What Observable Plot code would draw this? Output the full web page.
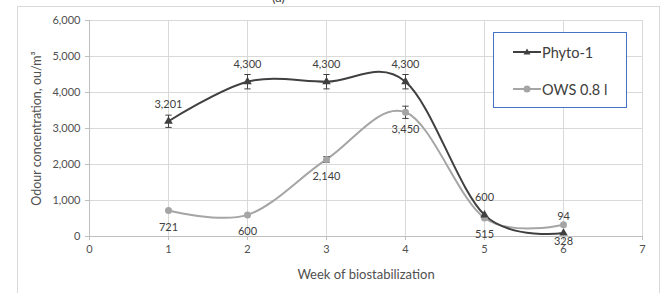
<!DOCTYPE html>
<html>
<head>
<meta charset="utf-8">
<script src="https://cdn.jsdelivr.net/npm/d3@7"></script>
<script src="https://cdn.jsdelivr.net/npm/@observablehq/plot@0.6"></script>
<style>
  html, body { margin: 0; padding: 0; background: #fff; overflow: hidden; }
  #wrap { position: relative; width: 672px; height: 293px; font-family: Lato, "Open Sans", sans-serif; }
  #frame { position: absolute; left: 17px; top: 6px; width: 643px; height: 300px; border: 1px solid #d9d9d9; box-sizing: border-box; }
  #top { position: absolute; left: 272px; top: -11px; font-size: 13px; color: #404040; }
  #chart { position: absolute; left: 0; top: 0; }
  #legend { position: absolute; left: 493px; top: 32px; width: 134px; height: 76px; border: 1px solid #4472c4; box-sizing: border-box; background: #fff; font-size: 14.5px; color: #404040; }
  .item { position: absolute; left: 19px; display: flex; align-items: center; height: 20px; }
  .item svg { margin-right: 1px; }
</style>
</head>
<body>
<div id="wrap">
  <div id="frame"></div>
  <div id="top">(a)</div>
  <div id="chart"></div>
  <div id="legend"></div>
</div>
<script>
const weeks = [1, 2, 3, 4, 5, 6];
const phyto = [3201, 4300, 4300, 4300, 600, 94];
const ows = [721, 600, 2140, 3450, 515, 328];
const phytoErr = [170, 200, 200, 200, 0, 0];
const owsErr = [0, 0, 80, 170, 0, 0];
const seriesNames = ["Phyto-1", "OWS 0.8 l"];
const xTicks = [0, 1, 2, 3, 4, 5, 6, 7];
const yTicks = [0, 1000, 2000, 3000, 4000, 5000, 6000];

const colors = {"Phyto-1": "#404040", "OWS 0.8 l": "#a5a5a5"};
const rows = [];
weeks.forEach((w, i) => {
  rows.push({series: seriesNames[0], week: w, value: phyto[i], err: phytoErr[i]});
  rows.push({series: seriesNames[1], week: w, value: ows[i], err: owsErr[i]});
});
const pRows = rows.filter(d => d.series === seriesNames[0]);
const oRows = rows.filter(d => d.series === seriesNames[1]);
const errRows = rows.filter(d => d.err > 0);
const capHalf = 0.04;
const fmt = d3.format(",");
const txt = "#505050";

const chart = Plot.plot({
  width: 672,
  height: 293,
  marginLeft: 89,
  marginRight: 30,
  marginTop: 20,
  marginBottom: 57,
  style: {fontFamily: "Lato, 'Open Sans', sans-serif", fontSize: "11px", color: txt, background: "transparent"},
  x: {domain: [0, 7]},
  y: {domain: [0, 6000]},
  marks: [
    Plot.gridX(xTicks, {stroke: "#d9d9d9", strokeOpacity: 1}),
    Plot.gridY(yTicks, {stroke: "#d9d9d9", strokeOpacity: 1}),
    Plot.ruleX([0], {stroke: "#bfbfbf"}),
    Plot.ruleY([0], {stroke: "#bfbfbf"}),
    Plot.axisX(xTicks, {tickSize: 4, tickPadding: 5, stroke: "#bfbfbf", fill: txt, fontSize: 11, label: null}),
    Plot.axisX({anchor: "bottom", ticks: [], tickSize: 0, fill: txt, fontSize: 13,
      label: "Week of biostabilization", labelAnchor: "center", labelArrow: "none", labelOffset: 42}),
    Plot.axisY(yTicks, {tickSize: 4, tickPadding: 5, stroke: "#bfbfbf", fill: txt, fontSize: 11, tickFormat: fmt, label: null}),
    Plot.axisY({anchor: "left", ticks: [], tickSize: 0, fill: txt, fontSize: 12.5,
      label: "Odour concentration, ou/m³", labelAnchor: "center", labelArrow: "none", labelOffset: 57}),
    Plot.line(oRows, {x: "week", y: "value", stroke: colors["OWS 0.8 l"], strokeWidth: 2, curve: "cardinal", tension: 0}),
    Plot.line(pRows, {x: "week", y: "value", stroke: colors["Phyto-1"], strokeWidth: 2, curve: "cardinal", tension: 0}),
    Plot.link(errRows, {x1: "week", x2: "week", y1: d => d.value - d.err, y2: d => d.value + d.err, stroke: "#404040", strokeWidth: 1}),
    Plot.link(errRows, {x1: d => d.week - capHalf, x2: d => d.week + capHalf, y1: d => d.value + d.err, y2: d => d.value + d.err, stroke: "#404040", strokeWidth: 1}),
    Plot.link(errRows, {x1: d => d.week - capHalf, x2: d => d.week + capHalf, y1: d => d.value - d.err, y2: d => d.value - d.err, stroke: "#404040", strokeWidth: 1}),
    Plot.dot(oRows, {x: "week", y: "value", r: 3.5, fill: colors["OWS 0.8 l"], stroke: "none"}),
    Plot.dot(pRows, {x: "week", y: "value", r: 3.2, symbol: "triangle", fill: colors["Phyto-1"], stroke: "none"}),
    Plot.text(pRows, {x: "week", y: "value", text: d => fmt(d.value), dy: -17, fill: "#404040", fontSize: 11}),
    Plot.text(oRows, {x: "week", y: "value", text: d => fmt(d.value), dy: 17, fill: "#404040", fontSize: 11})
  ]
});
document.getElementById("chart").appendChild(chart);

// legend
const legend = document.getElementById("legend");
seriesNames.forEach((name, i) => {
  const item = document.createElement("div");
  item.className = "item";
  item.style.top = (i === 0 ? 9 : 46) + "px";
  const ns = "http://www.w3.org/2000/svg";
  const svg = document.createElementNS(ns, "svg");
  svg.setAttribute("width", 28); svg.setAttribute("height", 10);
  const ln = document.createElementNS(ns, "line");
  ln.setAttribute("x1", 0); ln.setAttribute("x2", 28); ln.setAttribute("y1", 5); ln.setAttribute("y2", 5);
  ln.setAttribute("stroke", colors[name]); ln.setAttribute("stroke-width", 2);
  svg.appendChild(ln);
  if (i === 0) {
    const tri = document.createElementNS(ns, "path");
    tri.setAttribute("d", "M14,1.5 L17.5,7.5 L10.5,7.5 Z");
    tri.setAttribute("fill", colors[name]);
    svg.appendChild(tri);
  } else {
    const c = document.createElementNS(ns, "circle");
    c.setAttribute("cx", 14); c.setAttribute("cy", 5); c.setAttribute("r", 3.5);
    c.setAttribute("fill", colors[name]);
    svg.appendChild(c);
  }
  item.appendChild(svg);
  const s = document.createElement("span");
  s.textContent = name;
  item.appendChild(s);
  legend.appendChild(item);
});
</script>
</body>
</html>
